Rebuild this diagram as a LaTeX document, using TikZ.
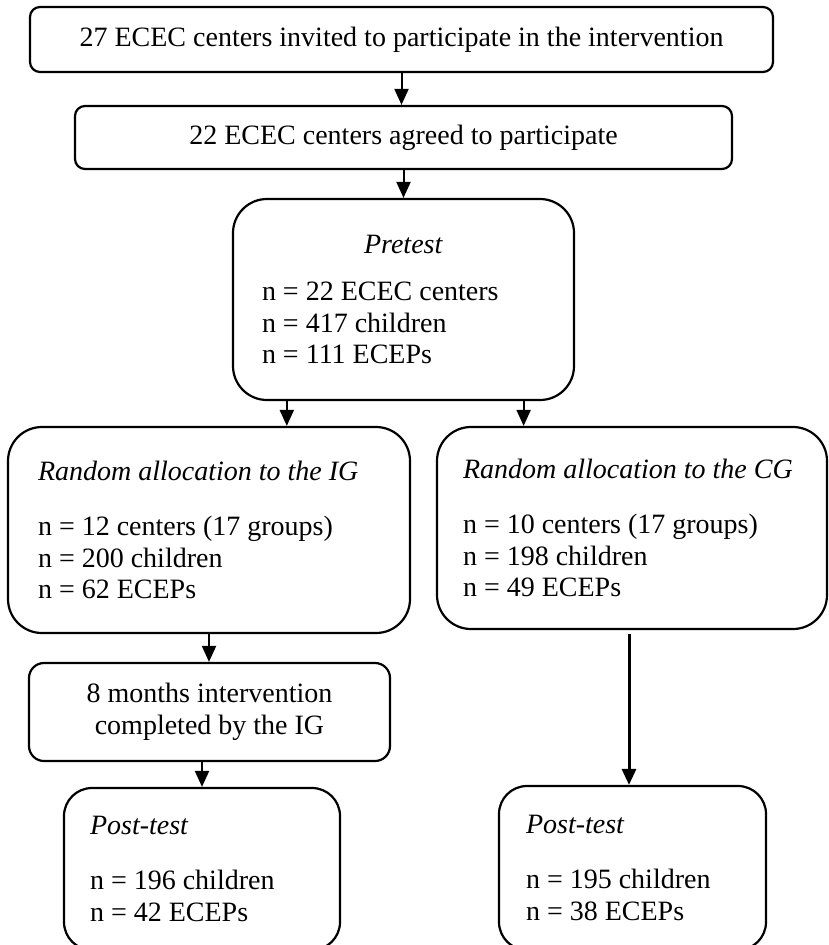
\documentclass[tikz,border=0pt]{standalone}
\usepackage{fontspec}
\setmainfont{Liberation Serif}
\usetikzlibrary{arrows.meta, calc, positioning}
\tikzset{>={Triangle[length=16pt,width=14pt]}}
\tikzset{
  flowbox/.style={draw, line width=2.2pt, rounded corners=10pt, inner ysep=4pt, font=\fontsize{28}{31.5}\selectfont},
  groupbox/.style={flowbox, rounded corners=34pt, align=flush left},
  postbox/.style={flowbox, rounded corners=28pt, align=flush left},
  flowarrow/.style={->, line width=2pt}
}

\begin{document}
\begin{tikzpicture}[x=1pt, y=-1pt]
  \useasboundingbox (0,0) rectangle (828,945);
  \node[flowbox, minimum width=743pt, minimum height=65pt] (invited) at (401.5,39.5) {27 ECEC centers invited to participate in the intervention};
  \node[flowbox, minimum width=657pt, minimum height=63pt] (agreed) at (403.5,137.5) {22 ECEC centers agreed to participate};
  \node[groupbox, text width=283pt, inner xsep=29pt, minimum height=201pt] (pretest) at (403.5,299.5) {\makebox[\hsize]{\textit{Pretest}}\\[15.5pt] n = 22 ECEC centers\\ n = 417 children\\ n = 111 ECEPs};
  \node[groupbox, text width=342pt, inner xsep=30pt, minimum height=206pt] (ig) at (209,530) {\textit{Random allocation to the IG}\\[23.5pt] n = 12 centers (17 groups)\\ n = 200 children\\ n = 62 ECEPs};
  \node[groupbox, text width=338pt, inner xsep=26pt, minimum height=202pt] (cg) at (632,528) {\textit{Random allocation to the CG}\\[23.5pt] n = 10 centers (17 groups)\\ n = 198 children\\ n = 49 ECEPs};
  \node[flowbox, rounded corners=15pt, align=center, minimum width=361pt, minimum height=98pt] (months) at (209.5,712) {8 months intervention\\ completed by the IG};
  \node[postbox, text width=224pt, inner xsep=26pt, minimum height=162pt] (postig) at (202,869) {\textit{Post-test}\\[23.5pt] n = 196 children\\ n = 42 ECEPs};
  \node[postbox, text width=213pt, inner xsep=27pt, minimum height=164pt] (postcg) at (632.5,868) {\textit{Post-test}\\[23.5pt] n = 195 children\\ n = 38 ECEPs};

  \coordinate (pretestL) at ($(pretest.south west)!0.16!(pretest.south east)$);
  \coordinate (pretestR) at ($(pretest.south west)!0.85!(pretest.south east)$);
  \draw[flowarrow] (invited.south) -- (invited.south |- agreed.north);
  \draw[flowarrow] (agreed.south) -- (agreed.south |- pretest.north);
  \draw[flowarrow] (pretestL) -- (pretestL |- ig.north);
  \draw[flowarrow] (pretestR) -- (pretestR |- cg.north);
  \draw[flowarrow] (ig.south) -- (ig.south |- months.north);
  \draw[flowarrow] (postig.north |- months.south) -- (postig.north);
  \draw[flowarrow, line width=3pt] ([xshift=-3pt,yshift=-4pt]cg.south) -- ([xshift=-3pt]cg.south |- postcg.north);
\end{tikzpicture}
\end{document}
